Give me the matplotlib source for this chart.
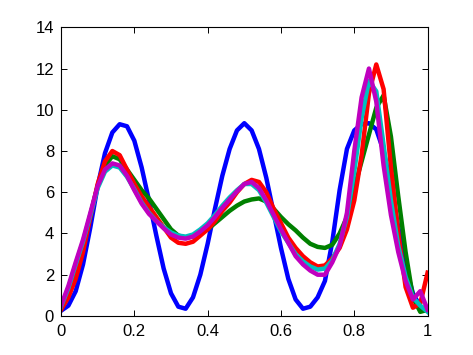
import matplotlib
matplotlib.use("Agg")
import matplotlib.pyplot as plt

# x positions shared by every series
x = [0.00, 0.02, 0.04, 0.06, 0.08, 0.10, 0.12, 0.14, 0.16, 0.18,
     0.20, 0.22, 0.24, 0.26, 0.28, 0.30, 0.32, 0.34, 0.36, 0.38,
     0.40, 0.42, 0.44, 0.46, 0.48, 0.50, 0.52, 0.54, 0.56, 0.58,
     0.60, 0.62, 0.64, 0.66, 0.68, 0.70, 0.72, 0.74, 0.76, 0.78,
     0.80, 0.82, 0.84, 0.86, 0.88, 0.90, 0.92, 0.94, 0.96, 0.98, 1.00]

bleu = [0.25, 0.5, 1.2, 2.5, 4.3, 6.3, 7.9, 8.9, 9.3, 9.2,
        8.5, 7.2, 5.6, 3.9, 2.3, 1.1, 0.45, 0.35, 0.9, 2.0,
        3.5, 5.2, 6.8, 8.1, 9.0, 9.35, 9.0, 8.1, 6.7, 5.0,
        3.3, 1.8, 0.8, 0.35, 0.45, 0.9, 1.7, 3.6, 6.1, 8.1,
        9.0, 9.3, 9.35, 9.05, 8.0, 6.3, 4.3, 2.4, 1.1, 0.45, 0.3]

vert = [0.35, 1.1, 2.1, 3.4, 4.9, 6.3, 7.3, 7.75, 7.6, 7.1,
        6.6, 6.1, 5.7, 5.2, 4.7, 4.2, 3.9, 3.8, 3.85, 4.0,
        4.2, 4.5, 4.8, 5.1, 5.35, 5.55, 5.65, 5.7, 5.55, 5.2,
        4.8, 4.45, 4.15, 3.8, 3.5, 3.35, 3.3, 3.45, 4.0, 4.8,
        6.2, 7.5, 8.8, 10.1, 10.7, 8.7, 5.8, 3.1, 0.9, 0.2, 0.3]

rouge = [0.3, 0.9, 1.8, 3.1, 4.8, 6.4, 7.5, 8.0, 7.8, 7.1,
         6.4, 5.8, 5.3, 4.8, 4.3, 3.8, 3.55, 3.5, 3.6, 3.9,
         4.2, 4.6, 5.1, 5.5, 6.0, 6.4, 6.6, 6.5, 6.0, 5.2,
         4.5, 3.8, 3.3, 2.9, 2.6, 2.4, 2.45, 2.8, 3.3, 4.2,
         5.6, 7.8, 10.8, 12.2, 11.0, 7.2, 4.0, 1.4, 0.4, 0.6, 2.1]

cyan = [0.45, 1.35, 2.5, 3.6, 4.9, 6.2, 7.0, 7.3, 7.2, 6.75,
        6.15, 5.5, 5.0, 4.6, 4.3, 4.05, 3.9, 3.85, 3.95, 4.2,
        4.5, 4.9, 5.35, 5.75, 6.1, 6.4, 6.4, 6.1, 5.5, 4.8,
        4.1, 3.55, 3.0, 2.65, 2.4, 2.25, 2.3, 2.7, 3.5, 4.8,
        7.0, 9.6, 11.4, 10.9, 8.3, 5.6, 3.4, 1.9, 0.9, 0.5, 0.2]

magenta = [0.5, 1.45, 2.6, 3.7, 5.0, 6.3, 7.1, 7.4, 7.3, 6.8,
           6.1, 5.45, 4.95, 4.6, 4.25, 3.95, 3.8, 3.75, 3.85, 4.1,
           4.4, 4.8, 5.25, 5.65, 6.05, 6.4, 6.5, 6.2, 5.6, 4.9,
           4.2, 3.55, 2.9, 2.5, 2.2, 2.0, 2.0, 2.6, 3.4, 5.0,
           8.0, 10.6, 12.0, 10.4, 7.3, 4.9, 3.1, 1.7, 0.8, 1.2, 0.3]

x_ticks = [0, 0.2, 0.4, 0.6, 0.8, 1]
x_labels = ['0', '0.2', '0.4', '0.6', '0.8', '1']
y_ticks = [0, 2, 4, 6, 8, 10, 12, 14]

plt.rcParams['font.family'] = ['Liberation Sans', 'DejaVu Sans']

fig = plt.figure(figsize=(4.73, 3.55), dpi=100)
ax = fig.add_axes([0.129, 0.110, 0.775, 0.813])

# ordre de tracé façon MATLAB : b, g, r, c, m
couleurs = [(0, 0, 1), (0, 0.5, 0), (1, 0, 0), (0, 0.75, 0.75), (0.75, 0, 0.75)]
for serie, c in zip([bleu, vert, rouge, cyan, magenta], couleurs):
    ax.plot(x, serie, color=c, linewidth=3.2, solid_joinstyle='round')

ax.set_xlim(0, 1)
ax.set_ylim(0, 14)
ax.set_xticks(x_ticks)
ax.set_xticklabels(x_labels)
ax.set_yticks(y_ticks)

ax.tick_params(direction='in', top=True, right=True, length=4, width=0.7,
               labelsize=12, colors='black')
ax.tick_params(axis='x', pad=6)
ax.tick_params(axis='y', pad=5)
for sp in ax.spines.values():
    sp.set_linewidth(0.8)

fig.savefig('out.png', dpi=100)
